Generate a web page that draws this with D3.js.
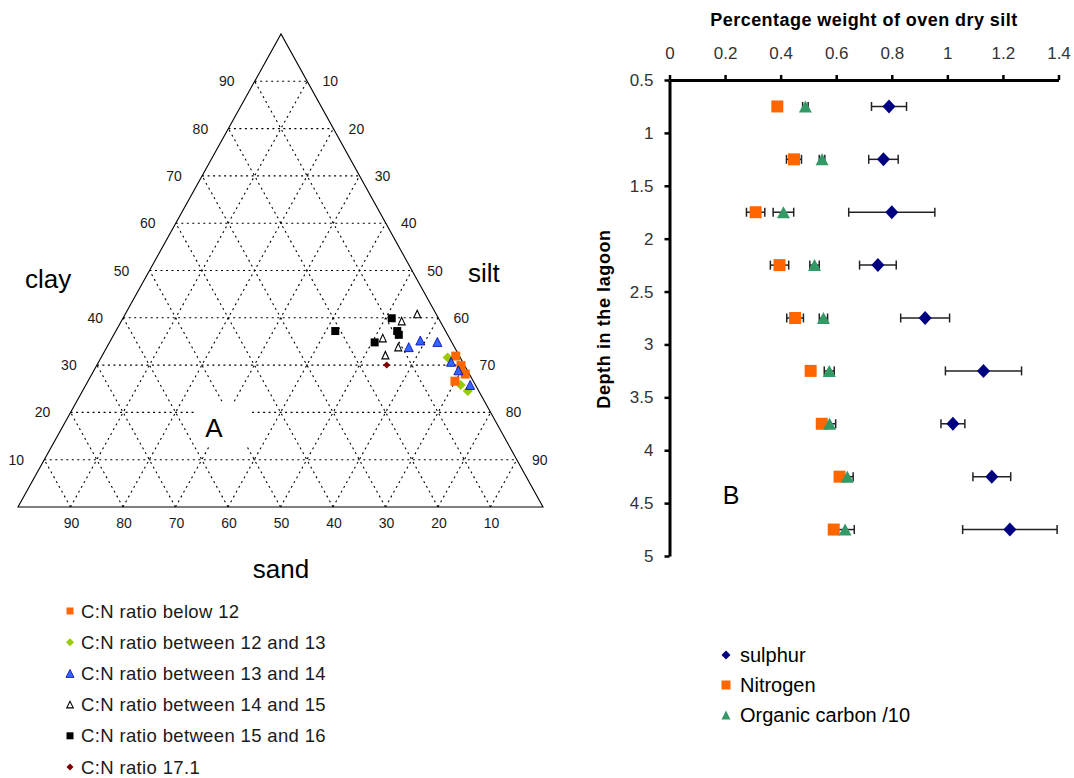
<!DOCTYPE html>
<html><head><meta charset="utf-8">
<script src="https://cdn.jsdelivr.net/npm/d3@7"></script>
<style>
html,body{margin:0;padding:0;background:#fff;}
svg{display:block;font-family:Arial,"Liberation Sans",sans-serif;}
</style></head><body>
<svg id="chart" width="1074" height="778"></svg>
<script>
// ---------- Panel A: sediment texture, [sand, silt, clay] in %, grouped by C:N ratio ----------
const cnBelow12 = [[0.7,67.4,31.9],[0.7,69.4,29.9],[0.8,71.1,28.1],[3.5,69.9,26.6]];
const cn12to13  = [[2.4,66.0,31.6],[2.8,71.4,25.8],[2.1,73.4,24.5]];
const cn13to14  = [[8.7,57.5,33.8],[5.8,59.0,35.2],[2.7,62.4,34.9],[2.2,67.1,30.7],[1.7,69.4,28.9],[1.0,73.2,25.8]];
const cn14to15  = [[3.6,55.6,40.8],[7.3,53.4,39.3],[12.7,51.6,35.7],[10.7,55.5,33.8],[14.0,53.9,32.1]];
const cn15to16  = [[8.9,51.2,39.9],[9.2,53.6,37.2],[9.3,54.3,36.4],[14.7,50.5,34.8],[21.0,41.8,37.2]];
const cn17      = [[14.8,55.2,30.0]];
const ternaryTicks = [10,20,30,40,50,60,70,80,90];
const ternaryLegend = ["C:N ratio below 12","C:N ratio between 12 and 13","C:N ratio between 13 and 14",
                       "C:N ratio between 14 and 15","C:N ratio between 15 and 16","C:N ratio 17.1"];

// ---------- Panel B: sediment chemistry by depth ----------
const depths      = [0.75,1.25,1.75,2.25,2.75,3.25,3.75,4.25,4.75];
const sulphur     = [0.79,0.77,0.80,0.75,0.92,1.13,1.02,1.16,1.225];
const sulphurErr  = [0.063,0.053,0.155,0.066,0.088,0.137,0.043,0.068,0.17];
const nitrogen    = [0.388,0.448,0.31,0.396,0.452,0.508,0.548,0.612,0.591];
const nitrogenErr = [0.01,0.027,0.033,0.033,0.03,0.01,0.012,0.012,0.012];
const carbon10    = [0.489,0.549,0.41,0.522,0.554,0.575,0.576,0.64,0.632];
const carbonErr   = [0.01,0.01,0.037,0.017,0.015,0.018,0.022,0.021,0.033];
const weightTicks = [0,0.2,0.4,0.6,0.8,1,1.2,1.4];
const depthTicks  = [0.5,1,1.5,2,2.5,3,3.5,4,4.5,5];
const chemLegend  = ["sulphur","Nitrogen","Organic carbon /10"];

const svg = d3.select("#chart");
const TXT = "#1a1a1a";

// marker shapes
const sq = s => `M${-s/2},${-s/2}h${s}v${s}h${-s}Z`;
const dia = (w,h) => `M0,${-h/2}L${w/2},0L0,${h/2}L${-w/2},0Z`;
const tri = (w,h) => `M0,${-h/2}L${w/2},${h/2}L${-w/2},${h/2}Z`;

// ================= Ternary diagram =================
const corner = {L:[18,507], R:[543,507], A:[281,34]};
const yClay = d3.scaleLinear().domain([0,100]).range([corner.L[1], corner.A[1]]);
const xSilt = d3.scaleLinear().domain([0,100]).range([0, corner.R[0]-corner.L[0]]);
const xClay = d3.scaleLinear().domain([0,100]).range([0, corner.A[0]-corner.L[0]]);
const tp = (sand, silt, clay) => [corner.L[0] + xSilt(silt) + xClay(clay), yClay(clay)];

const gA = svg.append("g");
// dotted grid
const gridLines = [];
ternaryTicks.forEach(k => {
  gridLines.push([tp(100-k,0,k), tp(0,100-k,k)]);   // constant clay
  gridLines.push([tp(k,100-k,0), tp(k,0,100-k)]);   // constant sand
  gridLines.push([tp(100-k,k,0), tp(0,k,100-k)]);   // constant silt
});
gA.selectAll("line.grid").data(gridLines).join("line")
  .attr("x1",d=>d[0][0]).attr("y1",d=>d[0][1]).attr("x2",d=>d[1][0]).attr("y2",d=>d[1][1])
  .attr("stroke","#000").attr("stroke-width",1.1).attr("stroke-dasharray","2,3.5");
// outline
gA.append("path")
  .attr("d", d3.line()([tp(100,0,0), tp(0,100,0), tp(0,0,100)]) + "Z")
  .attr("fill","none").attr("stroke","#000").attr("stroke-width",1.1);

// tick labels
gA.selectAll("text.lt").data(ternaryTicks).join("text")
  .attr("x", k => tp(100-k,0,k)[0] - 28).attr("y", k => yClay(k) + 5)
  .attr("text-anchor","middle").attr("font-size",14).attr("fill",TXT).text(k => k);
gA.selectAll("text.rt").data(ternaryTicks).join("text")
  .attr("x", k => tp(0,100-k,k)[0] + 23).attr("y", k => yClay(k) + 5)
  .attr("text-anchor","middle").attr("font-size",14).attr("fill",TXT).text(k => 100-k);
gA.selectAll("text.bt").data(ternaryTicks).join("text")
  .attr("x", k => tp(k,100-k,0)[0] + 1).attr("y", 528)
  .attr("text-anchor","middle").attr("font-size",14).attr("fill",TXT).text(k => k);

gA.append("text").attr("x",25).attr("y",288).attr("font-size",26).attr("fill","#000").text("clay");
gA.append("text").attr("x",468).attr("y",282).attr("font-size",26).attr("fill","#000").text("silt");
gA.append("text").attr("x",281).attr("y",578).attr("text-anchor","middle").attr("font-size",26).attr("fill","#000").text("sand");
gA.append("rect").attr("x",194).attr("y",403).attr("width",57).attr("height",44).attr("fill","#fff");
gA.append("text").attr("x",214).attr("y",437).attr("text-anchor","middle").attr("font-size",26).attr("fill","#000").text("A");

// data groups
const tGroups = [
  {data: cn12to13,  d: dia(10,10), fill:"#99cc00", stroke:"none", sw:0},
  {data: cnBelow12, d: sq(9),      fill:"#ff6600", stroke:"none", sw:0},
  {data: cn13to14,  d: tri(9,9),   fill:"#3366ff", stroke:"#0000aa", sw:0.8},
  {data: cn14to15,  d: tri(7,7.5), fill:"#fff",    stroke:"#000", sw:1.1},
  {data: cn15to16,  d: sq(8),      fill:"#000",    stroke:"none", sw:0},
  {data: cn17,      d: dia(7,7),   fill:"#800000", stroke:"none", sw:0}
];
tGroups.forEach(g => {
  gA.append("g").selectAll("path").data(g.data).join("path")
    .attr("transform", p => { const q = tp(p[0],p[1],p[2]); return `translate(${q[0]},${q[1]})`; })
    .attr("d", g.d).attr("fill", g.fill).attr("stroke", g.stroke).attr("stroke-width", g.sw);
});

// legend for panel A
const legA = [
  {d: sq(7),       fill:"#ff6600", stroke:"none", sw:0},
  {d: dia(8,8),    fill:"#99cc00", stroke:"none", sw:0},
  {d: tri(8,8),    fill:"#3366ff", stroke:"#0000aa", sw:0.8},
  {d: tri(6.5,6.5),fill:"#fff",    stroke:"#000", sw:1.1},
  {d: sq(7),       fill:"#000",    stroke:"none", sw:0},
  {d: dia(7,7),    fill:"#800000", stroke:"none", sw:0}
];
const legAY = d3.scaleLinear().domain([0,5]).range([611,767]);
const gLA = svg.append("g");
ternaryLegend.forEach((t,i) => {
  gLA.append("path").attr("transform",`translate(70,${legAY(i)})`).attr("d",legA[i].d)
    .attr("fill",legA[i].fill).attr("stroke",legA[i].stroke).attr("stroke-width",legA[i].sw);
  gLA.append("text").attr("x",81).attr("y",legAY(i)+6.5).attr("font-size",18.5)
    .attr("letter-spacing",0.35).attr("fill",TXT).text(t);
});

// ================= Depth profile =================
const x = d3.scaleLinear().domain([0,1.4]).range([669.5,1058.5]);
const y = d3.scaleLinear().domain([0.5,5]).range([80,556]);
const gB = svg.append("g");

const xAxis = gB.append("g").attr("transform","translate(0,80)")
  .call(d3.axisTop(x).tickValues(weightTicks).tickSize(5).tickSizeOuter(0).tickPadding(16).tickFormat(d=>String(d)));
const yAxis = gB.append("g").attr("transform","translate(669.5,0)")
  .call(d3.axisLeft(y).tickValues(depthTicks).tickSize(5).tickSizeOuter(0).tickPadding(11).tickFormat(d=>String(d)));
[xAxis,yAxis].forEach(a => {
  a.select(".domain").attr("stroke","#000").attr("stroke-width",3);
  a.selectAll(".tick line").attr("stroke","#000").attr("stroke-width",2.5);
  a.selectAll(".tick text").attr("font-size",17).attr("fill","#333").attr("font-family","Arial, Liberation Sans, sans-serif");
});

gB.append("text").attr("x",864).attr("y",26).attr("text-anchor","middle")
  .attr("font-size",18).attr("letter-spacing",0.45).attr("font-weight","bold").attr("fill","#000").text("Percentage weight of oven dry silt");
gB.append("text").attr("transform","translate(610,319) rotate(-90)").attr("text-anchor","middle")
  .attr("font-size",18).attr("letter-spacing",0.6).attr("font-weight","bold").attr("fill","#000").text("Depth in the lagoon");
gB.append("text").attr("x",731).attr("y",504).attr("text-anchor","middle").attr("font-size",25).attr("fill","#000").text("B");

const series = [
  {v: sulphur,  e: sulphurErr,  d: dia(13,14), fill:"#000080"},
  {v: nitrogen, e: nitrogenErr, d: sq(12),     fill:"#ff6600"},
  {v: carbon10, e: carbonErr,   d: tri(13,12), fill:"#339966"}
];
// error bars drawn beneath the markers
series.forEach(s => {
  const g = gB.append("g").attr("stroke","#222").attr("stroke-width",1.5);
  depths.forEach((dp,i) => {
    const x0 = x(s.v[i]-s.e[i]), x1 = x(s.v[i]+s.e[i]), yy = y(dp);
    g.append("line").attr("x1",x0).attr("x2",x1).attr("y1",yy).attr("y2",yy);
    g.append("line").attr("x1",x0).attr("x2",x0).attr("y1",yy-4.5).attr("y2",yy+4.5);
    g.append("line").attr("x1",x1).attr("x2",x1).attr("y1",yy-4.5).attr("y2",yy+4.5);
  });
});
series.forEach(s => {
  gB.append("g").selectAll("path").data(depths).join("path")
    .attr("transform",(dp,i)=>`translate(${x(s.v[i])},${y(dp)})`)
    .attr("d", s.d).attr("fill", s.fill);
});

// legend for panel B
const legB = [
  {d: dia(9,9), fill:"#000080"},
  {d: sq(9),    fill:"#ff6600"},
  {d: tri(9,9), fill:"#339966"}
];
const legBY = d3.scaleLinear().domain([0,2]).range([655,715]);
chemLegend.forEach((t,i) => {
  gB.append("path").attr("transform",`translate(726,${legBY(i)})`).attr("d",legB[i].d).attr("fill",legB[i].fill);
  gB.append("text").attr("x",740).attr("y",legBY(i)+7).attr("font-size",20).attr("fill","#000").text(t);
});
</script>
</body></html>
